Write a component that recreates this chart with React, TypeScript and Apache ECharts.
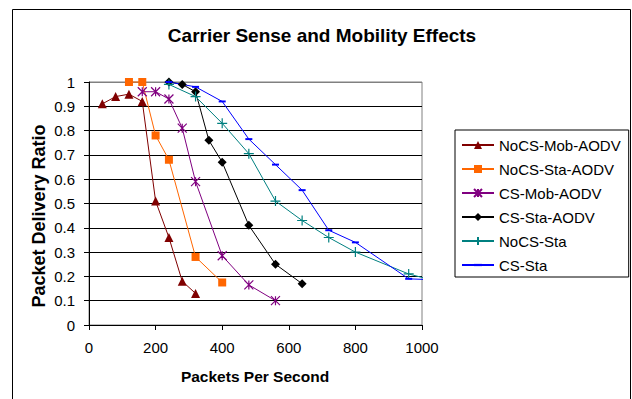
import React, { useEffect, useRef } from "react";
import * as echarts from "echarts";

// Packets per second (x) and packet delivery ratio (y) for each configuration
const noCsMobAodvX = [40, 80, 120, 160, 200, 240, 280, 320];
const noCsMobAodvY = [0.91, 0.94, 0.95, 0.92, 0.51, 0.36, 0.18, 0.13];

const noCsStaAodvX = [120, 160, 200, 240, 320, 400];
const noCsStaAodvY = [1.0, 1.0, 0.78, 0.68, 0.28, 0.175];

const csMobAodvX = [160, 200, 240, 280, 320, 400, 480, 560];
const csMobAodvY = [0.96, 0.96, 0.93, 0.81, 0.59, 0.285, 0.165, 0.1];

const csStaAodvX = [240, 280, 320, 360, 400, 480, 560, 640];
const csStaAodvY = [1.0, 0.99, 0.96, 0.76, 0.67, 0.41, 0.25, 0.17];

const noCsStaX = [240, 320, 400, 480, 560, 640, 720, 800, 960, 1016];
const noCsStaY = [0.99, 0.94, 0.83, 0.705, 0.51, 0.43, 0.36, 0.3, 0.21, 0.19];

const csStaX = [240, 320, 400, 480, 560, 640, 720, 800, 960, 1016];
const csStaY = [1.0, 0.98, 0.92, 0.765, 0.66, 0.555, 0.39, 0.34, 0.19, 0.187];

const seriesNames = [
  "NoCS-Mob-AODV",
  "NoCS-Sta-AODV",
  "CS-Mob-AODV",
  "CS-Sta-AODV",
  "NoCS-Sta",
  "CS-Sta",
];

const xTicks = [0, 200, 400, 600, 800, 1000];
const yTickStep = 0.1;

const FONT = "'Liberation Sans', Arial, Helvetica, sans-serif";

// Marker outlines; the invisible moveTo corners keep the dash inside a square box
const ASTERISK = "path://M0,0L10,10M10,0L0,10M5,0L5,10";
const PLUS = "path://M5,0L5,10M0,5L10,5";
const DASH = "path://M0,0M0,3.6L10,3.6L10,6.4L0,6.4ZM10,10";

function pairs(xs: number[], ys: number[], xMax: number) {
  return xs.map((x, i) =>
    x > xMax ? { value: [x, ys[i]], symbol: "none" } : { value: [x, ys[i]] }
  );
}

export default function App() {
  const ref = useRef<HTMLDivElement>(null);

  useEffect(() => {
    if (!ref.current) return;
    const chart = echarts.init(ref.current, null, { renderer: "svg" });
    const xMax = xTicks[xTicks.length - 1];

    const base = (name: string, color: string) => ({
      name,
      type: "line" as const,
      clip: false,
      lineStyle: { color, width: 1 },
      emphasis: { disabled: true },
    });

    chart.setOption({
      animation: false,
      backgroundColor: "#ffffff",
      textStyle: { fontFamily: FONT },
      grid: {
        left: 89,
        right: 210,
        top: 82,
        bottom: 74,
        show: true,
        borderColor: "#808080",
        borderWidth: 1,
        backgroundColor: "transparent",
      },
      xAxis: {
        type: "value",
        min: xTicks[0],
        max: xMax,
        interval: xTicks[1] - xTicks[0],
        axisLine: { show: true, lineStyle: { color: "#000", width: 1 } },
        axisTick: { show: true, inside: false, length: 5, lineStyle: { color: "#000" } },
        splitLine: { show: false },
        axisLabel: {
          color: "#000",
          fontSize: 15,
          fontFamily: FONT,
          margin: 15,
          formatter: (v: number) => String(v),
        },
      },
      yAxis: {
        type: "value",
        min: 0,
        max: 1,
        interval: yTickStep,
        axisLine: { show: true, lineStyle: { color: "#000", width: 1 } },
        axisTick: { show: true, inside: false, length: 5, lineStyle: { color: "#000" } },
        splitLine: {
          show: true,
          lineStyle: {
            color: [
              "#000", "#000", "#000", "#000", "#000", "#000",
              "#000", "#000", "#000", "#000", "#808080",
            ],
            width: 1,
          },
        },
        axisLabel: {
          color: "#000",
          fontSize: 15,
          fontFamily: FONT,
          margin: 14,
          formatter: (v: number) => String(Math.round(v * 10) / 10),
        },
      },
      legend: {
        orient: "vertical",
        left: 455,
        top: 130,
        padding: [7, 8, 4, 6],
        itemGap: 8,
        itemWidth: 32,
        itemHeight: 10,
        borderColor: "#000",
        borderWidth: 1,
        backgroundColor: "#fff",
        data: seriesNames,
        textStyle: { color: "#000", fontSize: 15, fontFamily: FONT, lineHeight: 16 },
      },
      graphic: [
        {
          type: "rect",
          z: 0,
          shape: { x: 12.5, y: 9.5, width: 618, height: 400 },
          style: { fill: "none", stroke: "#000", lineWidth: 1 },
          silent: true,
        },
        {
          type: "text",
          x: 322,
          y: 35,
          style: {
            text: "Carrier Sense and Mobility Effects",
            font: `bold 19px ${FONT}`,
            fill: "#000",
            textAlign: "center",
            textVerticalAlign: "middle",
          },
        },
        {
          type: "text",
          x: 39,
          y: 216,
          rotation: Math.PI / 2,
          style: {
            text: "Packet Delivery Ratio",
            font: `bold 18px ${FONT}`,
            fill: "#000",
            textAlign: "center",
            textVerticalAlign: "middle",
          },
        },
        {
          type: "text",
          x: 255,
          y: 376,
          style: {
            text: "Packets Per Second",
            font: `bold 15.5px ${FONT}`,
            fill: "#000",
            textAlign: "center",
            textVerticalAlign: "middle",
          },
        },
      ],
      series: [
        {
          ...base(seriesNames[0], "#800000"),
          data: pairs(noCsMobAodvX, noCsMobAodvY, xMax),
          symbol: "triangle",
          symbolSize: 9,
          itemStyle: { color: "#800000" },
        },
        {
          ...base(seriesNames[1], "#FF6600"),
          data: pairs(noCsStaAodvX, noCsStaAodvY, xMax),
          symbol: "rect",
          symbolSize: 8,
          itemStyle: { color: "#FF6600" },
        },
        {
          ...base(seriesNames[2], "#800080"),
          data: pairs(csMobAodvX, csMobAodvY, xMax),
          symbol: ASTERISK,
          symbolSize: 9,
          itemStyle: { color: "#800080", borderColor: "#800080", borderWidth: 1.2 },
        },
        {
          ...base(seriesNames[3], "#000000"),
          data: pairs(csStaAodvX, csStaAodvY, xMax),
          symbol: "diamond",
          symbolSize: 9,
          itemStyle: { color: "#000000" },
        },
        {
          ...base(seriesNames[4], "#008080"),
          data: pairs(noCsStaX, noCsStaY, xMax),
          symbol: PLUS,
          symbolSize: 10,
          itemStyle: { color: "#008080", borderColor: "#008080", borderWidth: 1.2 },
        },
        {
          ...base(seriesNames[5], "#0000FF"),
          data: pairs(csStaX, csStaY, xMax),
          symbol: DASH,
          symbolSize: 7,
          itemStyle: { color: "#0000FF" },
        },
      ],
    });

    return () => chart.dispose();
  }, []);

  return (
    <div
      ref={ref}
      style={{ position: "fixed", left: 0, top: 0, width: 632, height: 399 }}
    />
  );
}
